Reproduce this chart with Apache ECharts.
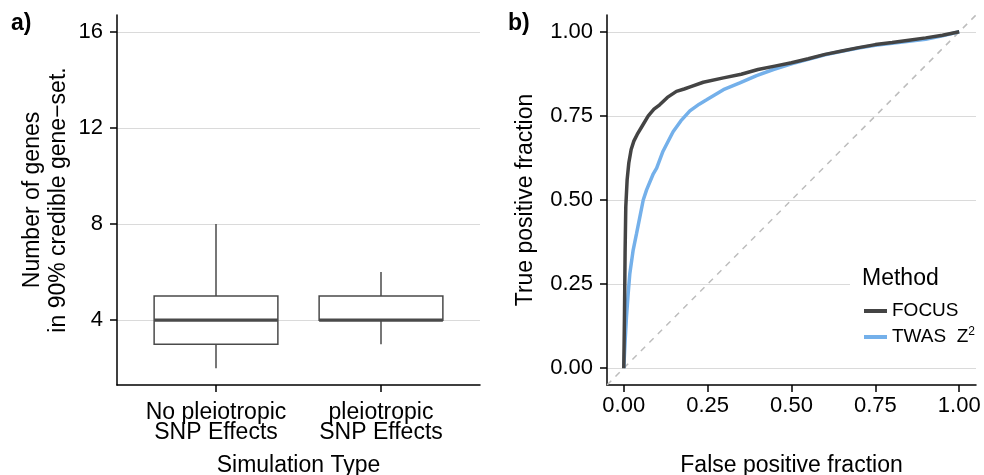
<!DOCTYPE html>
<html>
<head>
<meta charset="utf-8">
<script src="https://cdn.jsdelivr.net/npm/echarts@6/dist/echarts.min.js"></script>
<style>
  html, body { margin: 0; padding: 0; background: #fff; }
  #chart { width: 984px; height: 475px; }
</style>
</head>
<body>
<div id="chart"></div>
<script>
// Panel a) – credible gene-set sizes per simulation type (box summaries)
const boxCategories = ['No pleiotropic\nSNP Effects', 'pleiotropic\nSNP Effects'];
const boxPositions = [1, 2];
const whiskerLow = [2, 3];
const lowerQuartile = [3, 4];
const medians = [4, 4];
const upperQuartile = [5, 5];
const whiskerHigh = [8, 6];
const boxTicks = [4, 8, 12, 16];

// Panel b) – ROC curves
const focusFpr = [0, 0.002, 0.004, 0.006, 0.01, 0.015, 0.022, 0.03, 0.04, 0.055, 0.073, 0.09, 0.107, 0.13, 0.157, 0.18, 0.2, 0.237, 0.297, 0.35, 0.4, 0.45, 0.5, 0.55, 0.6, 0.65, 0.7, 0.75, 0.8, 0.85, 0.9, 0.95, 1];
const focusTpr = [0, 0.15, 0.35, 0.48, 0.56, 0.61, 0.65, 0.675, 0.695, 0.72, 0.75, 0.77, 0.783, 0.805, 0.823, 0.83, 0.837, 0.85, 0.863, 0.874, 0.888, 0.898, 0.908, 0.92, 0.933, 0.943, 0.953, 0.962, 0.968, 0.975, 0.982, 0.99, 1];
const twasFpr = [0, 0.004, 0.008, 0.013, 0.018, 0.028, 0.038, 0.048, 0.058, 0.068, 0.088, 0.098, 0.117, 0.147, 0.17, 0.197, 0.225, 0.247, 0.297, 0.346, 0.396, 0.446, 0.5, 0.55, 0.6, 0.65, 0.7, 0.75, 0.8, 0.85, 0.9, 0.95, 1];
const twasTpr = [0, 0.08, 0.152, 0.22, 0.281, 0.351, 0.4, 0.45, 0.5, 0.53, 0.578, 0.595, 0.645, 0.703, 0.735, 0.765, 0.785, 0.798, 0.828, 0.848, 0.87, 0.888, 0.905, 0.918, 0.932, 0.942, 0.952, 0.96, 0.966, 0.972, 0.978, 0.988, 1];
const rocTicks = [0, 0.25, 0.5, 0.75, 1];
const chanceLine = [-0.05, 1.05];

const FONT = '"Liberation Sans", Arial, Helvetica, sans-serif';
const AXIS_BLACK = { color: '#000', width: 1.5 };
const GRID_LINE = { color: '#DADADA', width: 1 };
const BOX_COLOR = '#4A4A4A';

const chart = echarts.init(document.getElementById('chart'), null, { renderer: 'canvas' });

const boxData = boxPositions.map((p, i) => [p, whiskerLow[i], lowerQuartile[i], medians[i], upperQuartile[i], whiskerHigh[i]]);
const zip = (xs, ys) => xs.map((x, i) => [x, ys[i]]);

function renderBox(params, api) {
  const x = api.value(0);
  const pLow = api.coord([x, api.value(1)]);
  const pQ1 = api.coord([x, api.value(2)]);
  const pMed = api.coord([x, api.value(3)]);
  const pQ3 = api.coord([x, api.value(4)]);
  const pHigh = api.coord([x, api.value(5)]);
  const half = api.size([0.75, 0])[0] / 2;
  const thin = { stroke: BOX_COLOR, lineWidth: 1.5, fill: null };
  return {
    type: 'group',
    children: [
      { type: 'line', shape: { x1: pLow[0], y1: pLow[1], x2: pQ1[0], y2: pQ1[1] }, style: thin },
      { type: 'line', shape: { x1: pQ3[0], y1: pQ3[1], x2: pHigh[0], y2: pHigh[1] }, style: thin },
      { type: 'rect', shape: { x: pQ3[0] - half, y: pQ3[1], width: half * 2, height: pQ1[1] - pQ3[1] },
        style: { stroke: BOX_COLOR, lineWidth: 1.5, fill: '#fff' } },
      { type: 'line', shape: { x1: pMed[0] - half, y1: pMed[1], x2: pMed[0] + half, y2: pMed[1] },
        style: { stroke: BOX_COLOR, lineWidth: 3.2 } }
    ]
  };
}

const tickLabelStyle = { color: '#000', fontSize: 22, fontFamily: FONT };

chart.setOption({
  animation: false,
  textStyle: { fontFamily: FONT },
  grid: [
    { left: 117, top: 15, width: 363, height: 370 },
    { left: 607, top: 15, width: 369, height: 370 }
  ],
  xAxis: [
    {
      type: 'value', gridIndex: 0, min: 0.4, max: 2.6,
      axisLine: { show: true, onZero: false, lineStyle: AXIS_BLACK },
      axisTick: { show: true, length: 7, customValues: boxPositions, lineStyle: AXIS_BLACK },
      axisLabel: Object.assign({}, tickLabelStyle, {
        customValues: boxPositions, margin: 18, fontSize: 23, lineHeight: 19.5,
        formatter: v => boxCategories[Math.round(v) - 1]
      }),
      splitLine: { show: false }
    },
    {
      type: 'value', gridIndex: 1, min: chanceLine[0], max: chanceLine[1],
      axisLine: { show: true, onZero: false, lineStyle: AXIS_BLACK },
      axisTick: { show: true, length: 7, customValues: rocTicks, lineStyle: AXIS_BLACK },
      axisLabel: Object.assign({}, tickLabelStyle, {
        customValues: rocTicks, margin: 10, formatter: v => v.toFixed(2)
      }),
      splitLine: { show: false }
    }
  ],
  yAxis: [
    {
      type: 'value', gridIndex: 0, min: 1.3, max: 16.7,
      axisLine: { show: true, onZero: false, lineStyle: AXIS_BLACK },
      axisTick: { show: true, length: 7, customValues: boxTicks, lineStyle: AXIS_BLACK },
      axisLabel: Object.assign({}, tickLabelStyle, { customValues: boxTicks, margin: 14 }),
      splitLine: { show: true, lineStyle: GRID_LINE }
    },
    {
      type: 'value', gridIndex: 1, min: chanceLine[0], max: chanceLine[1],
      axisLine: { show: true, onZero: false, lineStyle: AXIS_BLACK },
      axisTick: { show: true, length: 7, customValues: rocTicks, lineStyle: AXIS_BLACK },
      axisLabel: Object.assign({}, tickLabelStyle, {
        customValues: rocTicks, margin: 14, formatter: v => v.toFixed(2)
      }),
      splitLine: { show: true, lineStyle: GRID_LINE }
    }
  ],
  legend: {
    data: ['FOCUS', 'TWAS Z²'],
    orient: 'vertical',
    left: 850, top: 260,
    padding: [40, 30, 14, 14],
    backgroundColor: '#fff',
    icon: 'rect',
    itemWidth: 23, itemHeight: 4,
    itemGap: 4,
    selectedMode: false,
    textStyle: {
      color: '#000', fontSize: 19, lineHeight: 22, fontFamily: FONT,
      rich: {
        m: { fontSize: 19, lineHeight: 22, fontFamily: FONT, color: '#000' },
        s: { fontSize: 12, lineHeight: 12, fontFamily: FONT, color: '#000', verticalAlign: 'top' }
      }
    },
    formatter: name => name === 'FOCUS' ? name : '{m|TWAS  Z}{s|2}'
  },
  series: [
    {
      type: 'custom', name: 'gene-set size', xAxisIndex: 0, yAxisIndex: 0,
      renderItem: renderBox, data: boxData,
      encode: { x: 0, y: [1, 2, 3, 4, 5] }, silent: true
    },
    {
      type: 'line', name: 'chance', xAxisIndex: 1, yAxisIndex: 1,
      data: zip(chanceLine, chanceLine), showSymbol: false, silent: true,
      lineStyle: { color: '#BDBDBD', width: 1.5, type: [6, 6] }, z: 1
    },
    {
      type: 'line', name: 'TWAS Z²', xAxisIndex: 1, yAxisIndex: 1,
      data: zip(twasFpr, twasTpr), showSymbol: false,
      color: '#74B0EA', lineStyle: { color: '#74B0EA', width: 3.5 }, z: 2
    },
    {
      type: 'line', name: 'FOCUS', xAxisIndex: 1, yAxisIndex: 1,
      data: zip(focusFpr, focusTpr), showSymbol: false,
      color: '#444444', lineStyle: { color: '#444444', width: 3.5 }, z: 3
    }
  ],
  graphic: [
    { type: 'text', left: 11, top: 12, z: 100,
      style: { text: 'a)', font: 'bold 23px ' + FONT, fill: '#000' } },
    { type: 'text', left: 508, top: 12, z: 100,
      style: { text: 'b)', font: 'bold 23px ' + FONT, fill: '#000' } },
    { type: 'text', x: 46, y: 200, rotation: Math.PI / 2, z: 100,
      style: { text: 'Number of genes\nin 90% credible gene\u2212set.', font: '23px ' + FONT,
               lineHeight: 26, fill: '#000', textAlign: 'center', textVerticalAlign: 'middle' } },
    { type: 'text', x: 298.5, y: 466, z: 100,
      style: { text: 'Simulation Type', font: '23px ' + FONT, fill: '#000',
               textAlign: 'center', textVerticalAlign: 'middle' } },
    { type: 'text', x: 526, y: 200, rotation: Math.PI / 2, z: 100,
      style: { text: 'True positive fraction', font: '23px ' + FONT, fill: '#000',
               textAlign: 'center', textVerticalAlign: 'middle' } },
    { type: 'text', x: 791.5, y: 466, z: 100,
      style: { text: 'False positive fraction', font: '23px ' + FONT, fill: '#000',
               textAlign: 'center', textVerticalAlign: 'middle' } },
    { type: 'text', x: 862, y: 279, z: 100,
      style: { text: 'Method', font: '23px ' + FONT, fill: '#000',
               textAlign: 'left', textVerticalAlign: 'middle' } }
  ]
});
</script>
</body>
</html>
